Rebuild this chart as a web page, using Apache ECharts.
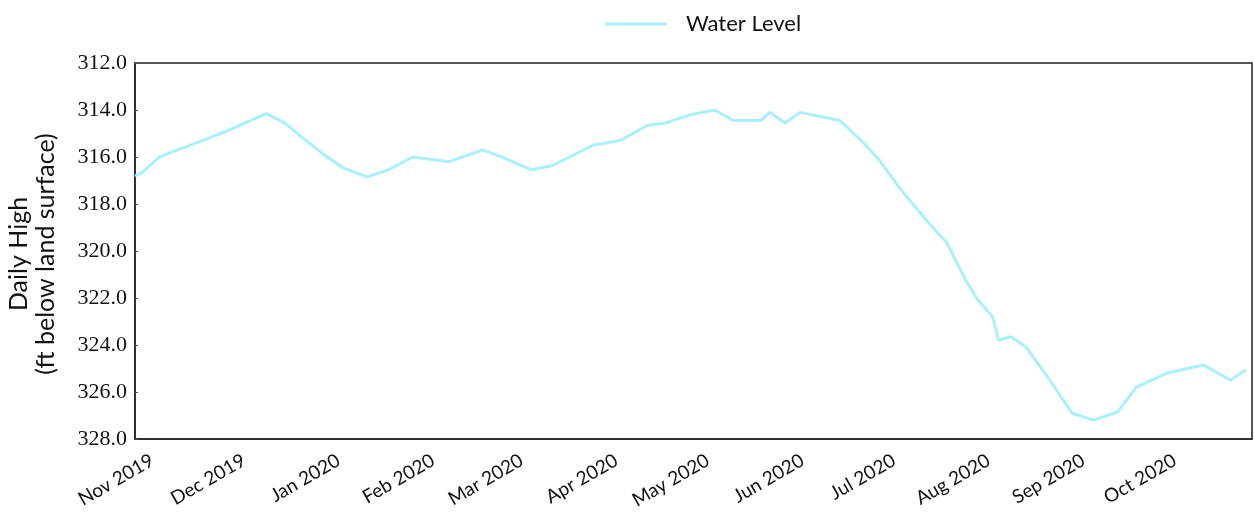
<!DOCTYPE html>
<html>
<head>
<meta charset="utf-8">
<script src="https://cdn.jsdelivr.net/npm/echarts@6/dist/echarts.min.js"></script>
<style>
  html, body { margin: 0; padding: 0; background: #fff; }
  #chart { width: 1254px; height: 519px; }
</style>
</head>
<body>
<div id="chart"></div>
<script>
// ---- data ----
const seriesName = 'Water Level';
const dates = [
  '2019-11-01','2019-11-03','2019-11-09','2019-11-15','2019-11-23','2019-11-30',
  '2019-12-08','2019-12-14','2019-12-20','2019-12-27',
  '2020-01-02','2020-01-08','2020-01-16','2020-01-23','2020-01-31',
  '2020-02-12','2020-02-23',
  '2020-03-01','2020-03-10','2020-03-17','2020-03-30',
  '2020-04-08','2020-04-17','2020-04-23',
  '2020-05-01','2020-05-09','2020-05-15','2020-05-24','2020-05-27',
  '2020-06-01','2020-06-06','2020-06-19','2020-06-26',
  '2020-07-02','2020-07-09','2020-07-18','2020-07-24','2020-07-30',
  '2020-08-03','2020-08-08','2020-08-10','2020-08-14','2020-08-19','2020-08-26',
  '2020-09-03','2020-09-10','2020-09-18','2020-09-24',
  '2020-10-04','2020-10-09','2020-10-16','2020-10-25','2020-10-30'
];
const levels = [
  316.8, 316.7, 316.0, 315.7, 315.3, 314.95,
  314.5, 314.15, 314.55, 315.3,
  315.9, 316.45, 316.85, 316.55, 316.0,
  316.2, 315.7,
  316.05, 316.55, 316.35, 315.5,
  315.3, 314.65, 314.55,
  314.2, 314.0, 314.45, 314.45, 314.1,
  314.55, 314.1, 314.45, 315.3,
  316.15, 317.4, 318.8, 319.65, 321.2,
  322.05, 322.8, 323.8, 323.65, 324.1, 325.35,
  326.9, 327.2, 326.85, 325.8,
  325.2, 325.05, 324.85, 325.5, 325.05
];
const monthTicks = [
  '2019-11-01','2019-12-01','2020-01-01','2020-02-01','2020-03-01','2020-04-01',
  '2020-05-01','2020-06-01','2020-07-01','2020-08-01','2020-09-01','2020-10-01'
];
const monthLabels = [
  'Nov 2019','Dec 2019','Jan 2020','Feb 2020','Mar 2020','Apr 2020',
  'May 2020','Jun 2020','Jul 2020','Aug 2020','Sep 2020','Oct 2020'
];
const xStart = '2019-11-01';
const xEnd = '2020-11-01';
const yMin = 312, yMax = 328, yStep = 2;
const yTitle = 'Daily High\n(ft below land surface)';

// ---- chart ----
const toTime = s => new Date(s + 'T00:00:00').getTime();
const tickTimes = monthTicks.map(toTime);
const chart = echarts.init(document.getElementById('chart'), null, { renderer: 'canvas' });
const sans = 'Lato, "Open Sans", sans-serif';
const lineColor = '#a8f0fc';

chart.setOption({
  animation: false,
  backgroundColor: '#ffffff',
  legend: {
    data: [seriesName],
    left: 600,
    top: 8,
    icon: 'rect',
    itemWidth: 62,
    itemHeight: 3,
    textStyle: { fontFamily: sans, fontSize: 22, color: '#111', padding: [0, 0, 0, 14] }
  },
  grid: {
    left: 135, right: 2, top: 63, bottom: 80,
    show: true, borderColor: '#222', borderWidth: 1.5, backgroundColor: 'transparent'
  },
  graphic: [{
    type: 'text',
    x: 32, y: 254,
    rotation: Math.PI / 2,
    style: {
      text: yTitle,
      align: 'center',
      verticalAlign: 'middle',
      fontFamily: sans,
      fontSize: 25,
      lineHeight: 27,
      fill: '#111'
    }
  }],
  xAxis: {
    type: 'value',
    min: toTime(xStart),
    max: toTime(xEnd),
    axisLine: { show: true, lineStyle: { color: '#222', width: 1.5 } },
    axisTick: { show: false },
    splitLine: { show: false },
    axisLabel: {
      customValues: tickTimes,
      formatter: v => {
        const i = tickTimes.indexOf(v);
        return i >= 0 ? monthLabels[i] : '';
      },
      rotate: 30,
      margin: 30,
      padding: [0, -20, 0, 0],
      fontFamily: sans,
      fontSize: 19,
      color: '#111'
    }
  },
  yAxis: {
    type: 'value',
    inverse: true,
    min: yMin, max: yMax, interval: yStep,
    axisLine: { show: true, lineStyle: { color: '#222', width: 1.5 } },
    axisTick: { show: true, inside: true, length: 3, lineStyle: { color: '#555' } },
    splitLine: { show: false },
    axisLabel: {
      formatter: v => v.toFixed(1),
      margin: 8,
      fontFamily: '"Liberation Serif", serif',
      fontSize: 22,
      color: '#111'
    }
  },
  series: [{
    name: seriesName,
    type: 'line',
    data: dates.map((d, i) => [toTime(d), levels[i]]),
    symbol: 'none',
    lineStyle: { color: lineColor, width: 3 },
    itemStyle: { color: lineColor }
  }]
});
</script>
</body>
</html>
